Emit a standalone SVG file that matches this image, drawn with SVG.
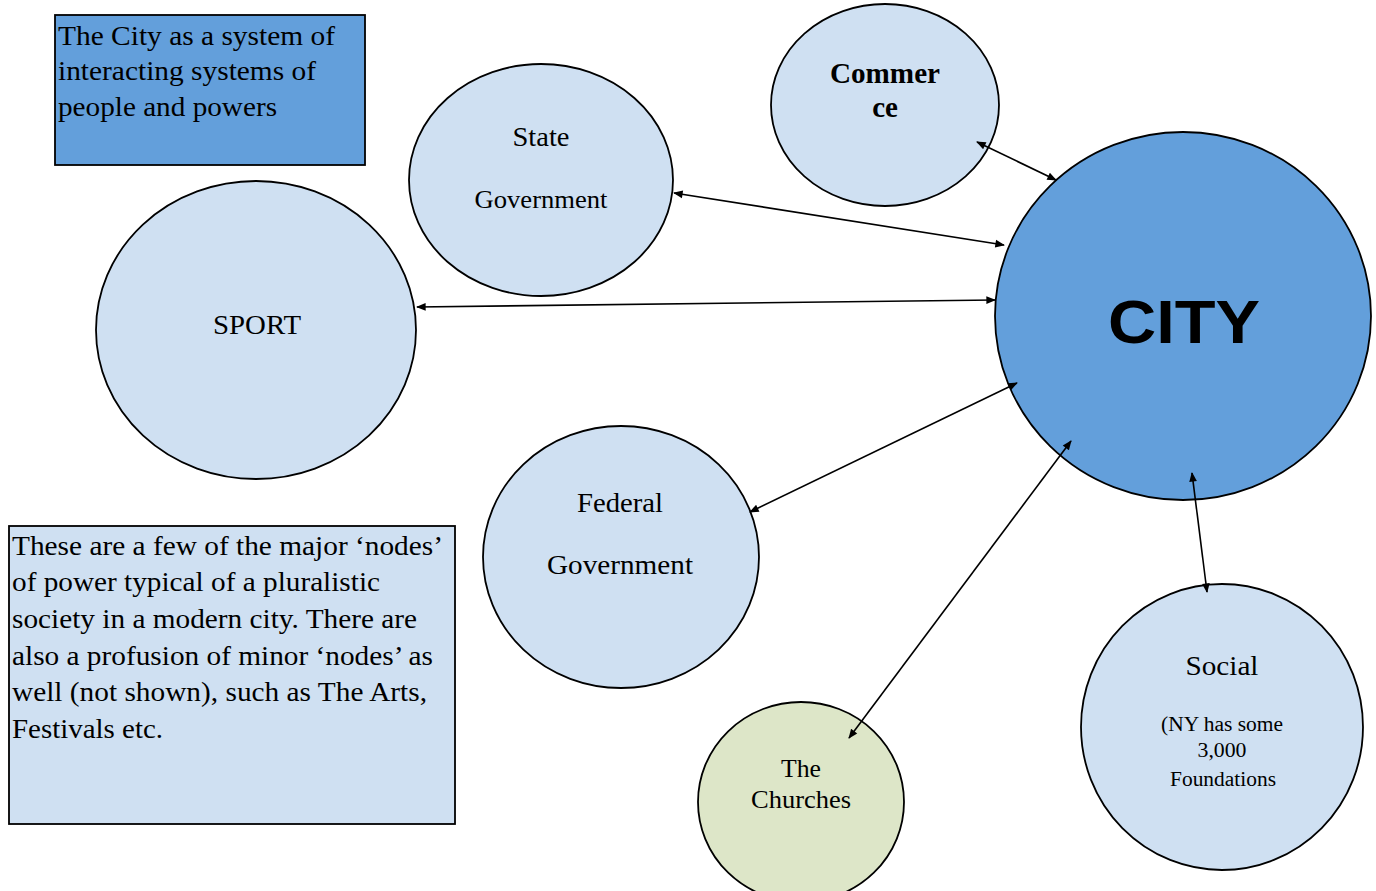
<svg xmlns="http://www.w3.org/2000/svg" width="1376" height="891" viewBox="0 0 1376 891">
<style>
.node{fill:#cfe0f2;stroke:#000;stroke-width:1.8}
.city{fill:#639fdb;stroke:#000;stroke-width:1.8}
.church{fill:#dde6c8;stroke:#000;stroke-width:1.8}
.box{stroke:#000;stroke-width:1.8}
.t{font-family:"Liberation Serif","Times New Roman",serif;fill:#000}
.c{text-anchor:middle}
.conn{stroke:#000;stroke-width:1.6;fill:none;marker-start:url(#ah);marker-end:url(#ah)}
</style>
<defs>
<marker id="ah" viewBox="0 0 10 10" refX="9" refY="5" markerWidth="6.5" markerHeight="6" orient="auto-start-reverse" markerUnits="strokeWidth">
<path d="M0,1 L10,5 L0,9 z" fill="#000"/>
</marker>
</defs>
<rect width="1376" height="891" fill="#fff"/>
<g id="title">
<rect class="box" x="55" y="15" width="310" height="150" fill="#639fdb"/>
<text class="t" font-size="28" x="58" y="45" textLength="277" lengthAdjust="spacingAndGlyphs">The City as a system of</text>
<text class="t" font-size="28" x="58" y="80" textLength="258" lengthAdjust="spacingAndGlyphs">interacting systems of</text>
<text class="t" font-size="28" x="58" y="116" textLength="219" lengthAdjust="spacingAndGlyphs">people and powers</text>
</g>
<g id="note">
<rect class="box" x="9" y="526" width="446" height="298" fill="#cfe0f2"/>
<text class="t" font-size="28" x="12" y="555" textLength="431" lengthAdjust="spacingAndGlyphs">These are a few of the major ‘nodes’</text>
<text class="t" font-size="28" x="12" y="591" textLength="368" lengthAdjust="spacingAndGlyphs">of power typical of a pluralistic</text>
<text class="t" font-size="28" x="12" y="628" textLength="405" lengthAdjust="spacingAndGlyphs">society in a modern city. There are</text>
<text class="t" font-size="28" x="12" y="665" textLength="421" lengthAdjust="spacingAndGlyphs">also a profusion of minor ‘nodes’ as</text>
<text class="t" font-size="28" x="12" y="701" textLength="415" lengthAdjust="spacingAndGlyphs">well (not shown), such as The Arts,</text>
<text class="t" font-size="28" x="12" y="738" textLength="151" lengthAdjust="spacingAndGlyphs">Festivals etc.</text>
</g>
<g id="commerce">
<ellipse class="node" cx="885" cy="105" rx="114" ry="101"/>
<text class="t c" font-size="29" font-weight="bold" x="885" y="83" textLength="110" lengthAdjust="spacingAndGlyphs">Commer</text>
<text class="t c" font-size="29" font-weight="bold" x="885" y="117">ce</text>
</g>
<g id="state">
<ellipse class="node" cx="541" cy="180" rx="132" ry="116"/>
<text class="t c" font-size="28" x="541" y="146" textLength="57" lengthAdjust="spacingAndGlyphs">State</text>
<text class="t c" font-size="26" x="541" y="208" textLength="133" lengthAdjust="spacingAndGlyphs">Government</text>
</g>
<g id="sport">
<ellipse class="node" cx="256" cy="330" rx="160" ry="149"/>
<text class="t c" font-size="28" x="257" y="334" textLength="88" lengthAdjust="spacingAndGlyphs">SPORT</text>
</g>
<g id="city">
<ellipse class="city" cx="1183" cy="316" rx="188" ry="184"/>
<text class="c" font-family="'Liberation Sans',Arial,sans-serif" font-weight="bold" font-size="62" x="1184" y="343" textLength="152" lengthAdjust="spacingAndGlyphs">CITY</text>
</g>
<g id="federal">
<ellipse class="node" cx="621" cy="557" rx="138" ry="131"/>
<text class="t c" font-size="28" x="620" y="512" textLength="86" lengthAdjust="spacingAndGlyphs">Federal</text>
<text class="t c" font-size="28" x="620" y="574" textLength="146" lengthAdjust="spacingAndGlyphs">Government</text>
</g>
<g id="churches">
<ellipse class="church" cx="801" cy="802" rx="103" ry="100"/>
<text class="t c" font-size="26" x="801" y="777" textLength="40" lengthAdjust="spacingAndGlyphs">The</text>
<text class="t c" font-size="26" x="801" y="808" textLength="100" lengthAdjust="spacingAndGlyphs">Churches</text>
</g>
<g id="social">
<ellipse class="node" cx="1222" cy="727" rx="141" ry="143"/>
<text class="t c" font-size="28" x="1222" y="675" textLength="73" lengthAdjust="spacingAndGlyphs">Social</text>
<text class="t c" font-size="20" x="1222" y="731" textLength="122" lengthAdjust="spacingAndGlyphs">(NY has some</text>
<text class="t c" font-size="20" x="1222" y="757" textLength="49" lengthAdjust="spacingAndGlyphs">3,000</text>
<text class="t c" font-size="20" x="1223" y="786" textLength="106" lengthAdjust="spacingAndGlyphs">Foundations</text>
</g>
<g id="connectors">
<line class="conn" x1="977" y1="142" x2="1056" y2="180"/>
<line class="conn" x1="674" y1="193" x2="1004" y2="245"/>
<line class="conn" x1="417" y1="307" x2="995" y2="300"/>
<line class="conn" x1="1017" y1="383" x2="750" y2="512"/>
<line class="conn" x1="1071" y1="441" x2="849" y2="738"/>
<line class="conn" x1="1192" y1="473" x2="1207" y2="592"/>
</g>
</svg>
